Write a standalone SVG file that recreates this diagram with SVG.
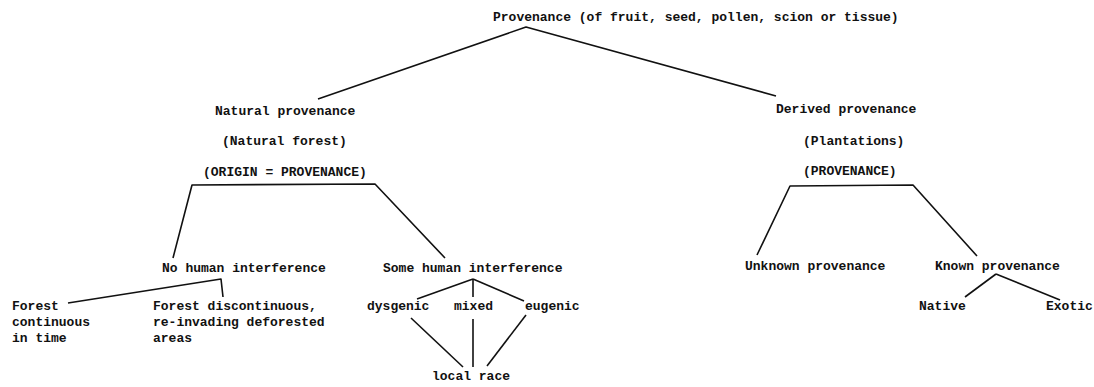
<svg xmlns="http://www.w3.org/2000/svg" width="1094" height="387" viewBox="0 0 1094 387">
<style>
text{font-family:"Liberation Mono","Courier New",monospace;font-size:13px;font-weight:bold;fill:#111}
.c line,.c polyline{stroke:#111;stroke-width:1.6;fill:none;stroke-linejoin:round}
</style>
<rect width="1094" height="387" fill="#fff"/>
<g class="c" id="connectors">
<polyline points="318,99 526,27 776,96"/>
<polyline points="173,258 192,185 375,184 445,258"/>
<polyline points="757,255 790,186 913,185 977,256"/>
<polyline points="68,303 221,279 223,297"/>
<line x1="473" y1="279" x2="417" y2="299"/>
<line x1="473" y1="279" x2="473" y2="297"/>
<line x1="473" y1="279" x2="524" y2="301"/>
<line x1="411" y1="318" x2="463" y2="367"/>
<line x1="473" y1="319" x2="473" y2="367"/>
<line x1="526" y1="315" x2="487" y2="366"/>
<line x1="996" y1="274" x2="965" y2="297"/>
<line x1="996" y1="274" x2="1060" y2="300"/>
</g>
<g id="root"><text x="493" y="20.5">Provenance (of fruit, seed, pollen, scion or tissue)</text></g>
<g id="natural">
<text x="215" y="115">Natural provenance</text>
<text x="222" y="145">(Natural forest)</text>
<text x="203" y="176">(ORIGIN = PROVENANCE)</text>
</g>
<g id="derived">
<text x="776" y="113">Derived provenance</text>
<text x="803" y="145">(Plantations)</text>
<text x="803" y="175">(PROVENANCE)</text>
</g>
<g id="no-human"><text x="162" y="272">No human interference</text></g>
<g id="some-human"><text x="383" y="272">Some human interference</text></g>
<g id="forest-continuous">
<text x="12" y="310">Forest</text>
<text x="12" y="326">continuous</text>
<text x="12" y="342">in time</text>
</g>
<g id="forest-discontinuous">
<text x="153" y="310">Forest discontinuous,</text>
<text x="153" y="326">re-invading deforested</text>
<text x="153" y="342">areas</text>
</g>
<g id="dysgenic"><text x="367" y="310">dysgenic</text></g>
<g id="mixed"><text x="454" y="310">mixed</text></g>
<g id="eugenic"><text x="525" y="310">eugenic</text></g>
<g id="local-race"><text x="432" y="380">local race</text></g>
<g id="unknown"><text x="745" y="270">Unknown provenance</text></g>
<g id="known"><text x="935" y="270">Known provenance</text></g>
<g id="native"><text x="919" y="310">Native</text></g>
<g id="exotic"><text x="1046" y="310">Exotic</text></g>
</svg>
